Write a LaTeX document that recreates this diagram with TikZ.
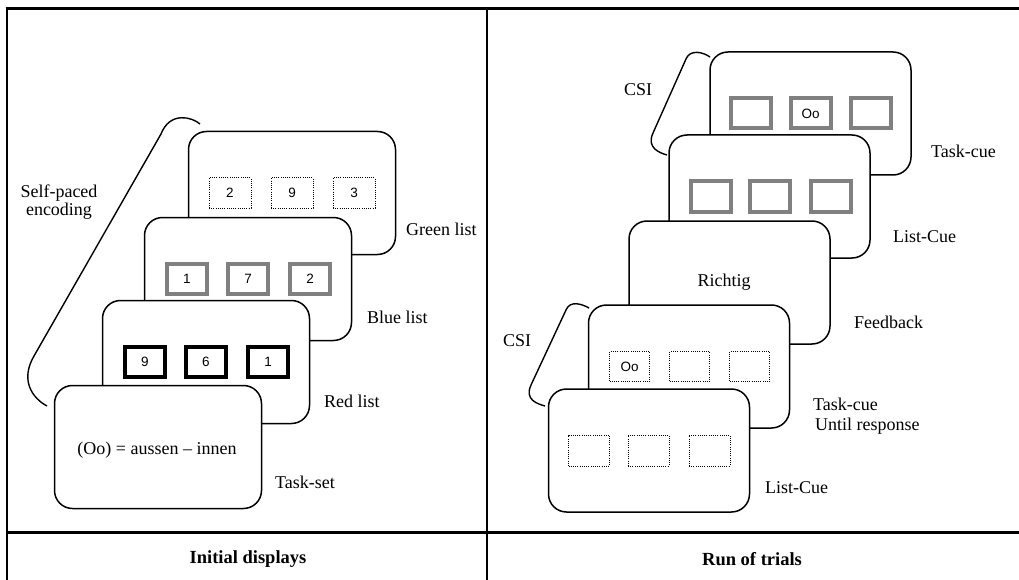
\documentclass[tikz,border=0pt]{standalone}
\usepackage{fontspec}
\setmainfont{Liberation Serif}
\newfontfamily\boxfont{Liberation Sans}
\begin{document}
\begin{tikzpicture}[x=1pt,y=-1pt,
  card/.style={draw, line width=1.5pt, fill=white, rounded corners=18pt,
    minimum width=207pt, minimum height=123pt, inner sep=0pt},
  rcard/.style={card, minimum width=201pt},
  graybox/.style={draw=black!50, line width=4pt, minimum width=40pt, minimum height=30pt, inner sep=0pt, font=\boxfont\fontsize{13.5}{15}\selectfont},
  blackbox/.style={graybox, draw=black},
  dotbox/.style={draw, dash pattern=on 1pt off 1.2pt, line width=1pt, minimum width=42pt, minimum height=30pt, inner sep=0pt, font=\boxfont\fontsize{13.5}{15}\selectfont},
  lbl/.style={anchor=west, inner sep=0pt, font=\fontsize{18}{21}\selectfont, text height=12pt, text depth=4pt},
  ttl/.style={inner sep=0pt, font=\bfseries\fontsize{18.5}{22}\selectfont},
  brk/.style={line width=1.4pt, line join=round}]
\useasboundingbox (0,0) rectangle (1019,580);
\fill[white] (0,0) rectangle (1019,580);
% frame
\draw[line width=3pt] (5.5,9) -- (1019,9);
\draw[line width=2pt] (7,9) -- (7,580);
\draw[line width=2pt] (487,9) -- (487,580);
\draw[line width=3pt] (7,532) -- (1019,532);
\node[ttl] (t1) at (248,559) {Initial displays};
\node[ttl] (t2) at (752,559) {Run of trials};

% ---------- left panel ----------
\draw[brk] (200,124) .. controls (192,117) and (170,111) .. (161,134) -- (34,356) .. controls (20,380) and (32,398) .. (47,406);
\node[lbl, align=center, anchor=center] (sp) at (59,211) {Self-paced\\[-3pt]encoding};

\node[card] (g) at (292,193) {};
\foreach \i/\d in {-1/2,0/9,1/3} \node[dotbox] (g\d) at ([xshift=\i*62pt]g.center) {\d};
\node[card] (b) at (248,279) {};
\node[graybox] (b1) at ([xshift=-61pt]b.center) {1};
\node[graybox] (b2) at (b.center) {7};
\node[graybox] (b3) at ([xshift=62pt]b.center) {2};
\node[card] (r) at (206,362) {};
\node[blackbox] (r1) at ([xshift=-61pt]r.center) {9};
\node[blackbox] (r2) at (r.center) {6};
\node[blackbox] (r3) at ([xshift=62pt]r.center) {1};
\node[card] (ts) at (158,447) {};
\node[inner sep=0pt, font=\fontsize{18}{21}\selectfont] (tst) at (157,450) {(Oo) = aussen -- innen};

\node[lbl] (lg) at (406,231) {Green list};
\node[lbl] (lb) at (367,319) {Blue list};
\node[lbl] (lr) at (324,403) {Red list};
\node[lbl] (lt) at (275,484) {Task-set};

% ---------- right panel ----------
\draw[brk] (710,57) .. controls (703,52) and (690,49) .. (686,59) -- (653,133) .. controls (646,148) and (660,153) .. (667,155);
\draw[brk] (589,308) .. controls (582,304) and (570,300) .. (566,310) -- (531,385) .. controls (524,400) and (538,404) .. (545,406);
\node[lbl] (csi1) at (624,92) {CSI};
\node[lbl] (csi2) at (503,342) {CSI};

\node[rcard] (tc) at (810.5,113.5) {};
\node[graybox] (tc1) at ([xshift=-60pt]tc.center) {};
\node[graybox] (tc2) at (tc.center) {Oo};
\node[graybox] (tc3) at ([xshift=60pt]tc.center) {};
\node[rcard] (lc) at (769.5,196.5) {};
\node[graybox] (lc1) at ([xshift=-59pt]lc.center) {};
\node[graybox] (lc2) at ([xshift=0.5pt]lc.center) {};
\node[graybox] (lc3) at ([xshift=61pt]lc.center) {};
\node[rcard] (fb) at (729.5,282.5) {};
\node[inner sep=0pt, font=\fontsize{18}{21}\selectfont] (fbt) at (724,282) {Richtig};
\node[rcard] (tu) at (689,366.5) {};
\node[dotbox, minimum width=40pt] (tu1) at ([xshift=-59.5pt]tu.center) {Oo};
\node[dotbox, minimum width=40pt] (tu2) at ([xshift=0.5pt]tu.center) {};
\node[dotbox, minimum width=40pt] (tu3) at ([xshift=60.5pt]tu.center) {};
\node[rcard] (lu) at (649,450.5) {};
\node[dotbox, minimum width=41pt, minimum height=31pt] (lu1) at ([xshift=-60pt]lu.center) {};
\node[dotbox, minimum width=41pt, minimum height=31pt] (lu2) at ([xshift=-0.5pt]lu.center) {};
\node[dotbox, minimum width=41pt, minimum height=31pt] (lu3) at ([xshift=60.5pt]lu.center) {};

\node[lbl] (ltc) at (931,154) {Task-cue};
\node[lbl] (llc) at (893,238) {List-Cue};
\node[lbl] (lfb) at (854,324) {Feedback};
\node[lbl] (ltu) at (813,406) {Task-cue};
\node[lbl] (ltu2) at (815,426) {Until response};
\node[lbl] (llu) at (765,489) {List-Cue};
\end{tikzpicture}
\end{document}
